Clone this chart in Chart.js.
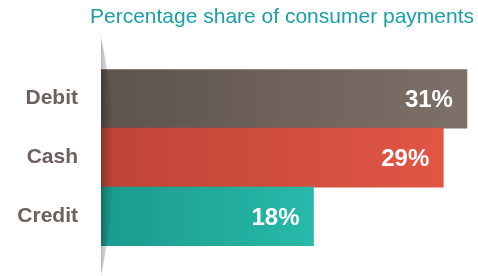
<!DOCTYPE html>
<html lang="en">
<head>
    <meta charset="UTF-8">
    <title>Percentage share of consumer payments</title>
    <script src="https://cdn.jsdelivr.net/npm/chart.js"></script>
    <style>
        body {
            margin: 0;
            background-color: white;
        }
        #wrap {
            width: 478px;
            height: 276px;
        }
    </style>
</head>
<body>
    <div id="wrap"><canvas id="paymentsChart" width="478" height="276"></canvas></div>
    <script>
        const categories = ["Debit", "Cash", "Credit"];
        const shares = [31, 29, 18];
        const colorsLeft = ["#5e534d", "#be4437", "#1b9a8e"];
        const colorsRight = ["#7d7068", "#e15644", "#27b9a9"];

        function barGradient(context) {
            const chart = context.chart;
            const i = context.dataIndex;
            if (!chart.chartArea || !chart.scales.x) return colorsLeft[i];
            const x0 = chart.scales.x.getPixelForValue(0);
            const x1 = chart.scales.x.getPixelForValue(shares[i]);
            const g = chart.ctx.createLinearGradient(x0, 0, x1, 0);
            g.addColorStop(0, colorsLeft[i]);
            g.addColorStop(1, colorsRight[i]);
            return g;
        }

        // value labels inside bar ends, plus the curved shadow at the left edge
        const decorations = {
            id: "decorations",
            afterDatasetsDraw(chart) {
                const ctx = chart.ctx;
                const left = chart.chartArea.left;

                ctx.save();
                const sg = ctx.createLinearGradient(left, 0, left + 13, 0);
                sg.addColorStop(0, "rgba(0,0,0,0.28)");
                sg.addColorStop(0.5, "rgba(0,0,0,0.1)");
                sg.addColorStop(1, "rgba(0,0,0,0)");
                ctx.beginPath();
                ctx.moveTo(left, 37);
                ctx.quadraticCurveTo(left + 26, 156, left, 276);
                ctx.closePath();
                ctx.fillStyle = sg;
                ctx.fill();
                ctx.restore();

                const meta = chart.getDatasetMeta(0);
                ctx.save();
                ctx.font = "bold 24px 'Liberation Sans', Arial, sans-serif";
                ctx.fillStyle = "#ffffff";
                ctx.textAlign = "right";
                ctx.textBaseline = "middle";
                meta.data.forEach((bar, i) => {
                    ctx.fillText(shares[i] + "%", bar.x - 14, bar.y + 2);
                });
                ctx.restore();
            }
        };

        new Chart(document.getElementById("paymentsChart"), {
            type: "bar",
            data: {
                labels: categories,
                datasets: [{
                    data: shares,
                    backgroundColor: barGradient,
                    borderWidth: 0,
                    barPercentage: 1,
                    categoryPercentage: 1
                }]
            },
            options: {
                indexAxis: "y",
                responsive: false,
                animation: false,
                layout: {
                    padding: { top: 0, right: 4, bottom: 30, left: 0 }
                },
                plugins: {
                    legend: { display: false },
                    tooltip: { enabled: false },
                    title: {
                        display: true,
                        text: "Percentage share of consumer payments",
                        align: "end",
                        color: "#1aa0a7",
                        font: { family: "'Liberation Sans', Arial, sans-serif", size: 21, weight: "normal" },
                        padding: { top: 5, bottom: 39 }
                    }
                },
                scales: {
                    x: {
                        display: false,
                        min: 0,
                        max: 31.6
                    },
                    y: {
                        afterFit(scale) {
                            scale.width = 101;
                            // the tick padding would otherwise push the bottom edge up
                            scale.paddingTop = 0;
                            scale.paddingBottom = 0;
                        },
                        grid: { display: false, drawTicks: false },
                        border: { display: false },
                        ticks: {
                            padding: 23,
                            color: "#6b625d",
                            font: { family: "'Liberation Sans', Arial, sans-serif", size: 21, weight: "bold" }
                        }
                    }
                }
            },
            plugins: [decorations]
        });
    </script>
</body>
</html>
